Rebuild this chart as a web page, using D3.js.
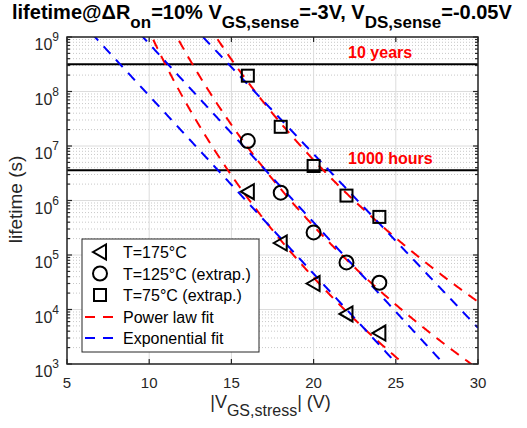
<!DOCTYPE html>
<html>
<head>
<meta charset="utf-8">
<script src="https://cdn.jsdelivr.net/npm/d3@7"></script>
<style>
  body { margin: 0; background: #fff; }
  text { font-family: "Liberation Sans", Arial, sans-serif; }
</style>
</head>
<body>
<svg id="chart" width="527" height="428"></svg>
<script>
// measured data (lifetime in s)
const vgs = [16, 18, 20, 22, 24];
const life175 = [1.45e6, 1.66e5, 3.0e4, 8.3e3, 3.7e3];
const life125 = [1.23e7, 1.39e6, 2.6e5, 7.3e4, 3.1e4];
const life75 = [1.95e8, 2.25e7, 4.3e6, 1.23e6, 5.0e5];
const seriesNames = ["T=175°C", "T=125°C (extrap.)", "T=75°C (extrap.)"];
const seriesMarkers = ["triangle", "circle", "square"];

// fit coefficients
// power law: log10(t) = powA - powN * log10(V)
const powA = [24.14, 24.89, 25.96];
const powN = [15.03, 14.88, 14.77];
// exponential: log10(t) = expA - expB * V
const expA = [11.188, 12.152, 13.233];
const expB = [0.3266, 0.3277, 0.319];

const refValues = [3.156e8, 3.6e6];
const refLabels = ["10 years", "1000 hours"];

const xTicks = [5, 10, 15, 20, 25, 30];
const yDecades = [3, 4, 5, 6, 7, 8, 9];

const margin = { left: 67, right: 49, top: 37, bottom: 64 };
const W = 527, H = 428;
const width = W - margin.left - margin.right;
const height = H - margin.top - margin.bottom;

const svg = d3.select('#chart');
const chart = svg.append('g')
    .attr('transform', `translate(${margin.left},${margin.top})`);

const x = d3.scaleLinear().domain([5, 30]).range([0, width]);
const y = d3.scaleLog().domain([1e3, 1e9]).range([height, 0]);

svg.append('defs').append('clipPath').attr('id', 'plotclip')
    .append('rect').attr('width', width).attr('height', height);

// minor grid (dotted)
let minors = [];
yDecades.slice(0, -1).forEach(d => {
    for (let k = 2; k <= 9; k++) minors.push(k * Math.pow(10, d));
});
chart.append('g').selectAll('line').data(minors).join('line')
    .attr('x1', 0).attr('x2', width)
    .attr('y1', d => y(d)).attr('y2', d => y(d))
    .attr('stroke', '#c8c8c8').attr('stroke-width', 1)
    .attr('stroke-dasharray', '1,2');

// major grid
chart.append('g').selectAll('line').data(yDecades.map(d => Math.pow(10, d))).join('line')
    .attr('x1', 0).attr('x2', width)
    .attr('y1', d => y(d)).attr('y2', d => y(d))
    .attr('stroke', '#dcdcdc').attr('stroke-width', 1);
chart.append('g').selectAll('line').data(xTicks).join('line')
    .attr('x1', d => x(d)).attr('x2', d => x(d))
    .attr('y1', 0).attr('y2', height)
    .attr('stroke', '#dcdcdc').attr('stroke-width', 1);

// reference lines
chart.append('g').selectAll('line').data(refValues).join('line')
    .attr('x1', 0).attr('x2', width)
    .attr('y1', d => y(d)).attr('y2', d => y(d))
    .attr('stroke', '#000').attr('stroke-width', 2);
chart.append('g').selectAll('text').data(refValues).join('text')
    .attr('x', x(22.1))
    .attr('y', d => y(d) - 6)
    .attr('fill', '#f00')
    .style('font-weight', 'bold')
    .style('font-size', '16px')
    .text((d, i) => refLabels[i]);

// fit lines
const vSamples = d3.range(5, 30.001, 0.05);
const fits = chart.append('g').attr('clip-path', 'url(#plotclip)');
const lineGen = d3.line().x(d => x(d[0])).y(d => y(Math.pow(10, d[1])));
powA.forEach((a, i) => {
    fits.append('path')
        .datum(vSamples.map(v => [v, a - powN[i] * Math.log10(v)]))
        .attr('d', lineGen)
        .attr('fill', 'none').attr('stroke', '#f00').attr('stroke-width', 2)
        .attr('stroke-dasharray', '10,8');
});
expA.forEach((a, i) => {
    fits.append('path')
        .datum(vSamples.map(v => [v, a - expB[i] * v]))
        .attr('d', lineGen)
        .attr('fill', 'none').attr('stroke', '#00f').attr('stroke-width', 2)
        .attr('stroke-dasharray', '10,8');
});

// markers
function drawMarker(g, type) {
    if (type === 'triangle') {
        g.append('path').attr('d', 'M-7,0 L6,-7.5 L6,7.5 Z');
    } else if (type === 'circle') {
        g.append('circle').attr('r', 7);
    } else {
        g.append('rect').attr('x', -6).attr('y', -6).attr('width', 12).attr('height', 12);
    }
    g.selectAll('*').attr('fill', 'none').attr('stroke', '#000').attr('stroke-width', 2);
}
[life175, life125, life75].forEach((vals, i) => {
    chart.append('g').selectAll('g').data(vals).join('g')
        .attr('transform', (d, j) => `translate(${x(vgs[j])},${y(d)})`)
        .each(function () { drawMarker(d3.select(this), seriesMarkers[i]); });
});

// axes box and ticks
chart.append('rect').attr('width', width).attr('height', height)
    .attr('fill', 'none').attr('stroke', '#262626').attr('stroke-width', 1.5);

const ticks = chart.append('g').attr('stroke', '#262626').attr('stroke-width', 1.2);
xTicks.forEach(t => {
    ticks.append('line').attr('x1', x(t)).attr('x2', x(t)).attr('y1', height).attr('y2', height - 5);
    ticks.append('line').attr('x1', x(t)).attr('x2', x(t)).attr('y1', 0).attr('y2', 5);
});
yDecades.forEach(d => {
    const yy = y(Math.pow(10, d));
    ticks.append('line').attr('x1', 0).attr('x2', 5).attr('y1', yy).attr('y2', yy);
    ticks.append('line').attr('x1', width).attr('x2', width - 5).attr('y1', yy).attr('y2', yy);
});
minors.forEach(m => {
    ticks.append('line').attr('x1', 0).attr('x2', 3).attr('y1', y(m)).attr('y2', y(m));
    ticks.append('line').attr('x1', width).attr('x2', width - 3).attr('y1', y(m)).attr('y2', y(m));
});

// tick labels
chart.append('g').selectAll('text').data(xTicks).join('text')
    .attr('x', d => x(d)).attr('y', height + 24)
    .attr('text-anchor', 'middle')
    .style('font-size', '15px').attr('fill', '#262626')
    .text(d => d);
const yLab = chart.append('g').selectAll('text').data(yDecades).join('text')
    .attr('x', -8).attr('y', d => y(Math.pow(10, d)) + 13)
    .attr('text-anchor', 'end')
    .style('font-size', '16px').attr('fill', '#262626');
yLab.append('tspan').text('10');
yLab.append('tspan').attr('dy', -9).style('font-size', '12px').text(d => d);

// axis titles
const xt = chart.append('text')
    .attr('x', width / 2 - 2).attr('y', height + 44)
    .attr('text-anchor', 'middle')
    .style('font-size', '18px').attr('fill', '#262626');
xt.append('tspan').text('|V');
xt.append('tspan').attr('dy', 8).style('font-size', '16px').text('GS,stress');
xt.append('tspan').attr('dy', -8).text('| (V)');

chart.append('text')
    .attr('transform', `translate(-45,${height / 2 - 1}) rotate(-90)`)
    .attr('text-anchor', 'middle')
    .style('font-size', '19px').attr('fill', '#262626')
    .text('lifetime (s)');

// title
const title = svg.append('text')
    .attr('x', 12).attr('y', 19)
    .style('font-size', '20px').style('font-weight', 'bold').attr('fill', '#000');
title.append('tspan').text('lifetime@ΔR');
title.append('tspan').attr('dy', 9).style('font-size', '17px').text('on');
title.append('tspan').attr('dy', -9).text('=10% V');
title.append('tspan').attr('dy', 9).style('font-size', '17px').text('GS,sense');
title.append('tspan').attr('dy', -9).text('=-3V, V');
title.append('tspan').attr('dy', 9).style('font-size', '17px').text('DS,sense');
title.append('tspan').attr('dy', -9).text('=-0.05V');

// legend
const legend = chart.append('g').attr('transform', 'translate(15,202)');
legend.append('rect').attr('width', 177).attr('height', 113)
    .attr('fill', '#fff').attr('stroke', '#262626').attr('stroke-width', 1);
const rowY = [13, 34.5, 56, 78, 99];
seriesNames.forEach((name, i) => {
    const g = legend.append('g').attr('transform', `translate(18,${rowY[i]})`);
    drawMarker(g, seriesMarkers[i]);
});
const lineColors = ['#f00', '#00f'];
['Power law fit', 'Exponential fit'].forEach((name, i) => {
    legend.append('line')
        .attr('x1', 3).attr('x2', 36)
        .attr('y1', rowY[i + 3]).attr('y2', rowY[i + 3])
        .attr('stroke', lineColors[i]).attr('stroke-width', 2)
        .attr('stroke-dasharray', '10,8');
});
legend.selectAll('text.lab').data(seriesNames.concat(['Power law fit', 'Exponential fit'])).join('text')
    .attr('class', 'lab')
    .attr('x', 41).attr('y', (d, i) => rowY[i] + 6)
    .style('font-size', '16px').attr('fill', '#000')
    .text(d => d);
</script>
</body>
</html>
